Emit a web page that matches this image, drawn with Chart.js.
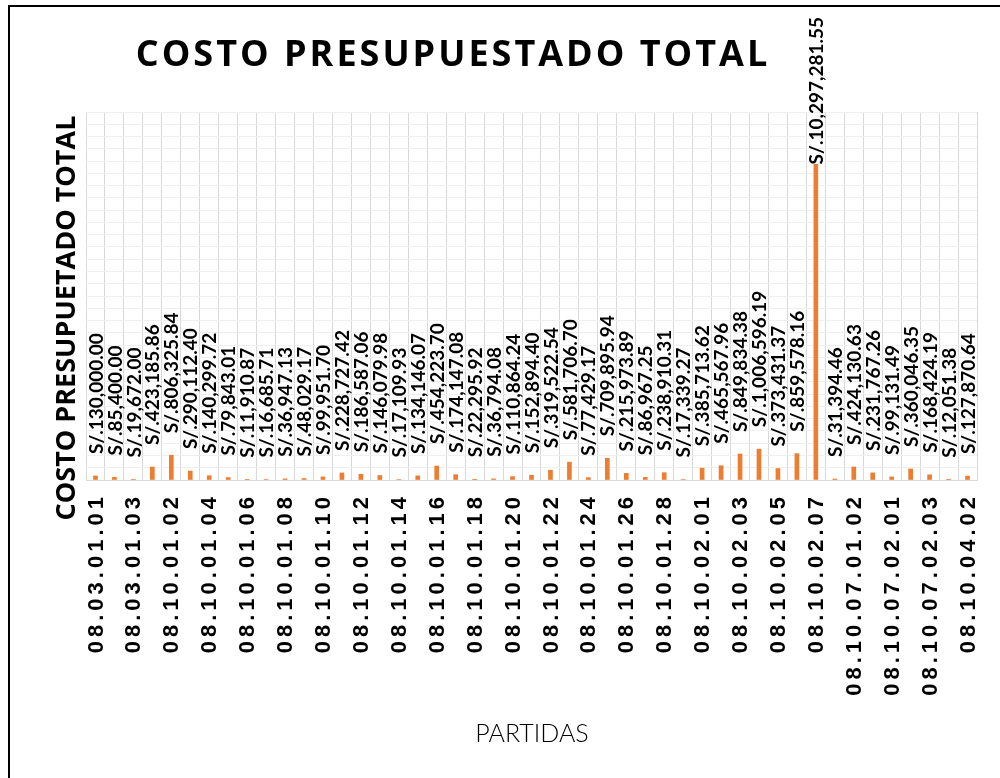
<!DOCTYPE html>
<html>
<head>
<meta charset="utf-8">
<script src="https://cdn.jsdelivr.net/npm/chart.js@4.4.1/dist/chart.umd.min.js"></script>
<title>Costo presupuestado total</title>
<style>
  html, body { margin: 0; padding: 0; background: #fff; }
</style>
</head>
<body>
<canvas id="bar-chart" width="1000" height="778"></canvas>
<script>
// partidas (categorias del eje X)
const partidas = [
  "08.03.01.01", "08.03.01.02", "08.03.01.03",
  "08.10.01.01", "08.10.01.02", "08.10.01.03", "08.10.01.04", "08.10.01.05",
  "08.10.01.06", "08.10.01.07", "08.10.01.08", "08.10.01.09", "08.10.01.10",
  "08.10.01.11", "08.10.01.12", "08.10.01.13", "08.10.01.14", "08.10.01.15",
  "08.10.01.16", "08.10.01.17", "08.10.01.18", "08.10.01.19", "08.10.01.20",
  "08.10.01.21", "08.10.01.22", "08.10.01.23", "08.10.01.24", "08.10.01.25",
  "08.10.01.26", "08.10.01.27", "08.10.01.28", "08.10.01.29",
  "08.10.02.01", "08.10.02.02", "08.10.02.03", "08.10.02.04", "08.10.02.05",
  "08.10.02.06", "08.10.02.07",
  "08.10.07.01.01", "08.10.07.01.02", "08.10.07.01.03",
  "08.10.07.02.01", "08.10.07.02.02", "08.10.07.02.03",
  "08.10.04.01", "08.10.04.02"
];

// costo presupuestado (S/.)
const costos = [
  130000.00, 85400.00, 19672.00,
  423185.86, 806325.84, 290112.40, 140299.72, 79843.01,
  11910.87, 16685.71, 36947.13, 48029.17, 99951.70,
  228727.42, 186587.06, 146079.98, 17109.93, 134146.07,
  454223.70, 174147.08, 22295.92, 36794.08, 110864.24,
  152894.40, 319522.54, 581706.70, 77429.17, 709895.94,
  215973.89, 86967.25, 238910.31, 17339.27,
  385713.62, 465567.96, 849834.38, 1006596.19, 373431.37,
  859578.16, 10297281.55,
  31394.46, 424130.63, 231767.26,
  99131.49, 360046.35, 168424.19,
  12051.38, 127870.64
];

const yMax = 12000000;
const yStep = 400000;

function soles(v) {
  const parts = v.toFixed(2).split(".");
  parts[0] = parts[0].replace(/\B(?=(\d{3})+(?!\d))/g, ",");
  return "S/." + parts.join(".");
}

const decor = {
  id: "decor",
  beforeDraw(chart) {
    const ctx = chart.ctx;
    ctx.save();
    ctx.fillStyle = "#fff";
    ctx.fillRect(0, 0, chart.width, chart.height);
    ctx.strokeStyle = "#000";
    ctx.lineWidth = 2;
    ctx.beginPath();
    ctx.moveTo(9, 800);
    ctx.lineTo(9, 6);
    ctx.lineTo(1010, 6);
    ctx.stroke();
    ctx.restore();
  },
  afterDraw(chart) {
    const ctx = chart.ctx;
    const xs = chart.scales.x;
    const area = chart.chartArea;

    // titulo
    ctx.save();
    ctx.fillStyle = "#000";
    ctx.font = "bold 36px 'Open Sans'";
    ctx.letterSpacing = "3px";
    ctx.textAlign = "center";
    ctx.textBaseline = "middle";
    ctx.fillText("COSTO PRESUPUESTADO TOTAL", 453, 56);
    ctx.restore();

    // titulo eje Y
    ctx.save();
    ctx.fillStyle = "#000";
    ctx.font = "bold 27px 'Open Sans'";
    ctx.textAlign = "center";
    ctx.textBaseline = "middle";
    ctx.translate(67, 318);
    ctx.rotate(-Math.PI / 2);
    ctx.fillText("COSTO PRESUPUETADO TOTAL", 0, 0);
    ctx.restore();

    // titulo eje X
    ctx.save();
    ctx.fillStyle = "#000";
    ctx.font = "300 25px Lato";
    ctx.textAlign = "center";
    ctx.textBaseline = "middle";
    ctx.fillText("PARTIDAS", 532, 734);
    ctx.restore();

    // etiquetas del eje X (una si, una no)
    ctx.save();
    ctx.fillStyle = "#000";
    ctx.font = "bold 22px 'Liberation Sans'";
    ctx.letterSpacing = "4px";
    ctx.textAlign = "right";
    ctx.textBaseline = "middle";
    partidas.forEach((p, i) => {
      if (i % 2 !== 0) return;
      const x = xs.getPixelForValue(i);
      ctx.save();
      ctx.translate(x + 1, area.bottom + 13);
      ctx.rotate(-Math.PI / 2);
      ctx.fillText(p, 0, 0);
      ctx.restore();
    });
    ctx.restore();

    // etiquetas de datos
    ctx.save();
    ctx.fillStyle = "#000";
    ctx.font = "bold 19px Lato";
    ctx.textAlign = "left";
    ctx.textBaseline = "middle";
    const meta = chart.getDatasetMeta(0);
    meta.data.forEach((bar, i) => {
      const txt = soles(costos[i]);
      const w = ctx.measureText(txt).width;
      let y0 = bar.y - 22;
      if (y0 - w < 17) y0 = 17 + w;
      ctx.save();
      ctx.translate(bar.x + 1, y0);
      ctx.rotate(-Math.PI / 2);
      ctx.fillText(txt, 0, 0);
      ctx.restore();
    });
    ctx.restore();
  }
};

new Chart(document.getElementById("bar-chart"), {
  type: "bar",
  data: {
    labels: partidas,
    datasets: [{
      label: "COSTO PRESUPUESTADO TOTAL",
      data: costos,
      backgroundColor: "#ED7D31",
      barThickness: 4
    }]
  },
  options: {
    responsive: false,
    animation: false,
    layout: { padding: { left: 86, top: 112, right: 23, bottom: 298 } },
    plugins: {
      legend: { display: false },
      title: { display: false },
      tooltip: { enabled: false }
    },
    scales: {
      x: {
        ticks: { display: false },
        grid: { color: "#d9d9d9", lineWidth: 1, drawTicks: false },
        border: { color: "#d9d9d9", width: 1 }
      },
      y: {
        min: 0,
        max: yMax,
        ticks: { display: false, stepSize: yStep },
        grid: { color: "#efefef", lineWidth: 1, drawTicks: false },
        border: { display: false }
      }
    }
  },
  plugins: [decor]
});
</script>
</body>
</html>
